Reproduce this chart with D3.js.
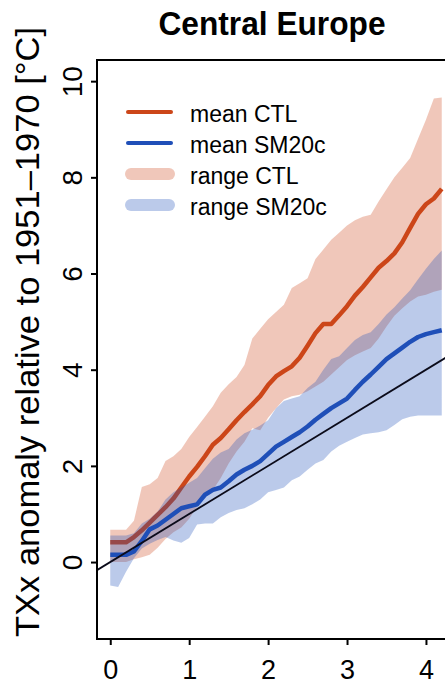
<!DOCTYPE html>
<html>
<head>
<meta charset="utf-8">
<script src="https://cdn.jsdelivr.net/npm/d3@7"></script>
<style>
  body { margin: 0; background: #fff; }
  svg { display: block; font-family: "Liberation Sans", Arial, sans-serif; }
</style>
</head>
<body>
<div id="chart"></div>
<script>
// global warming level (x axis)
const warming = [0, 0.1, 0.2, 0.3, 0.4, 0.5, 0.6, 0.7, 0.8, 0.9,
  1.0, 1.1, 1.2, 1.3, 1.4, 1.5, 1.6, 1.7, 1.8, 1.9,
  2.0, 2.1, 2.2, 2.3, 2.4, 2.5, 2.6, 2.7, 2.8, 2.9,
  3.0, 3.1, 3.2, 3.3, 3.4, 3.5, 3.6, 3.7, 3.8, 3.9,
  4.0, 4.1, 4.2];

const ctlMean = [0.41, 0.41, 0.41, 0.52, 0.66, 0.82, 0.98, 1.14, 1.32, 1.55,
  1.78, 1.98, 2.20, 2.44, 2.58, 2.76, 2.95, 3.12, 3.28, 3.45,
  3.68, 3.86, 3.97, 4.07, 4.25, 4.50, 4.76, 4.95, 4.95, 5.13,
  5.32, 5.54, 5.72, 5.92, 6.12, 6.26, 6.42, 6.65, 6.95, 7.24,
  7.44, 7.56, 7.76];
const ctlHi = [0.67, 0.67, 0.67, 0.86, 1.56, 1.62, 1.75, 2.10, 2.20, 2.35,
  2.60, 2.81, 3.02, 3.24, 3.52, 3.70, 3.85, 4.10, 4.65, 4.85,
  5.05, 5.20, 5.35, 5.70, 5.80, 5.90, 6.30, 6.50, 6.70, 6.85,
  7.00, 7.11, 7.18, 7.22, 7.50, 7.75, 8.00, 8.20, 8.40, 8.80,
  9.20, 9.64, 9.66];
const ctlLo = [0.00, 0.00, 0.00, 0.06, 0.10, 0.15, 0.30, 0.48, 0.62, 0.72,
  0.90, 1.15, 1.38, 1.50, 1.75, 2.05, 2.30, 2.50, 2.78, 2.74,
  3.00, 3.20, 3.38, 3.45, 3.48, 3.55, 3.65, 3.75, 3.90, 4.05,
  4.20, 4.30, 4.38, 4.45, 4.65, 4.90, 5.12, 5.28, 5.42, 5.52,
  5.56, 5.62, 5.66];

const smMean = [0.15, 0.15, 0.15, 0.22, 0.44, 0.68, 0.76, 0.88, 1.00, 1.12,
  1.16, 1.20, 1.40, 1.50, 1.55, 1.68, 1.82, 1.92, 2.00, 2.10,
  2.25, 2.40, 2.50, 2.60, 2.70, 2.82, 2.96, 3.08, 3.20, 3.30,
  3.40, 3.58, 3.75, 3.90, 4.06, 4.22, 4.34, 4.46, 4.58, 4.68,
  4.74, 4.78, 4.82];
const smHi = [0.55, 0.55, 0.55, 0.60, 0.80, 0.90, 1.05, 1.30, 1.45, 1.55,
  1.65, 1.75, 1.95, 2.15, 2.28, 2.35, 2.55, 2.68, 2.75, 2.84,
  2.95, 3.20, 3.35, 3.40, 3.45, 3.62, 3.75, 4.00, 4.22, 4.28,
  4.45, 4.62, 4.72, 4.78, 4.95, 5.15, 5.30, 5.48, 5.65, 5.88,
  6.10, 6.30, 6.48];
const smLo = [-0.49, -0.52, -0.20, 0.08, 0.28, 0.38, 0.46, 0.52, 0.45, 0.40,
  0.50, 0.78, 0.80, 0.80, 0.93, 1.02, 1.08, 1.12, 1.20, 1.30,
  1.45, 1.50, 1.55, 1.70, 1.78, 1.92, 2.05, 2.12, 2.30, 2.42,
  2.50, 2.58, 2.65, 2.68, 2.70, 2.74, 2.85, 2.97, 3.02, 3.05,
  3.05, 3.05, 3.05];

// 1:1 reference line
const diagonal = [-0.2, 4.4];

const xTicks = [0, 1, 2, 3, 4];
const yTicks = [0, 2, 4, 6, 8, 10];
const legendLabels = ['mean CTL', 'mean SM20c', 'range CTL', 'range SM20c'];

const ctlColor = '#cc4619';
const smColor = '#1f4fb8';
const rangeOpacity = 0.3;

const width = 445, height = 685;
const plot = { left: 97, top: 60, right: 455, bottom: 639 };

const svg = d3.select('#chart').append('svg')
  .attr('width', width)
  .attr('height', height);

svg.append('rect').attr('width', width).attr('height', height).attr('fill', '#fff');

const x = d3.scaleLinear()
  .domain([-0.168, 4.368])
  .range([plot.left, plot.right]);

const y = d3.scaleLinear()
  .domain([-1.6, 10.44])
  .range([plot.bottom, plot.top]);

svg.append('clipPath')
  .attr('id', 'plot-clip')
  .append('rect')
  .attr('x', plot.left)
  .attr('y', plot.top)
  .attr('width', plot.right - plot.left)
  .attr('height', plot.bottom - plot.top);

const rows = warming.map((w, i) => ({
  x: w,
  ctlMean: ctlMean[i], ctlHi: ctlHi[i], ctlLo: ctlLo[i],
  smMean: smMean[i], smHi: smHi[i], smLo: smLo[i]
}));

const area = (lo, hi) => d3.area()
  .x(d => x(d.x))
  .y0(d => y(d[lo]))
  .y1(d => y(d[hi]));

const line = key => d3.line()
  .x(d => x(d.x))
  .y(d => y(d[key]));

const g = svg.append('g').attr('clip-path', 'url(#plot-clip)');

g.append('path')
  .datum(rows)
  .attr('d', area('ctlLo', 'ctlHi'))
  .attr('fill', ctlColor)
  .attr('fill-opacity', rangeOpacity);

g.append('path')
  .datum(rows)
  .attr('d', line('ctlMean'))
  .attr('fill', 'none')
  .attr('stroke', ctlColor)
  .attr('stroke-width', 4.5)
  .attr('stroke-linejoin', 'round');

g.append('path')
  .datum(rows)
  .attr('d', area('smLo', 'smHi'))
  .attr('fill', smColor)
  .attr('fill-opacity', rangeOpacity);

g.append('path')
  .datum(rows)
  .attr('d', line('smMean'))
  .attr('fill', 'none')
  .attr('stroke', smColor)
  .attr('stroke-width', 4.5)
  .attr('stroke-linejoin', 'round');

g.append('line')
  .attr('x1', x(diagonal[0]))
  .attr('y1', y(diagonal[0]))
  .attr('x2', x(diagonal[1]))
  .attr('y2', y(diagonal[1]))
  .attr('stroke', '#0b0b1a')
  .attr('stroke-width', 1.8);

// frame
svg.append('rect')
  .attr('x', plot.left)
  .attr('y', plot.top)
  .attr('width', plot.right - plot.left)
  .attr('height', plot.bottom - plot.top)
  .attr('fill', 'none')
  .attr('stroke', '#000')
  .attr('stroke-width', 2);

const xAxis = d3.axisBottom(x)
  .tickValues(xTicks)
  .tickSize(6)
  .tickFormat(d3.format('d'));

svg.append('g')
  .attr('transform', `translate(0,${plot.bottom})`)
  .call(xAxis)
  .call(a => a.select('.domain').remove())
  .call(a => a.selectAll('line').attr('stroke-width', 2))
  .call(a => a.selectAll('text')
    .attr('y', 40)
    .attr('dy', 0)
    .attr('font-size', 27)
    .attr('font-family', null)
    .attr('fill', '#000'));

const yAxis = d3.axisLeft(y)
  .tickValues(yTicks)
  .tickSize(6)
  .tickFormat(d3.format('d'));

svg.append('g')
  .attr('transform', `translate(${plot.left},0)`)
  .call(yAxis)
  .call(a => a.select('.domain').remove())
  .call(a => a.selectAll('line').attr('stroke-width', 2))
  .call(a => a.selectAll('text')
    .attr('transform', 'rotate(-90)')
    .attr('x', 0)
    .attr('y', -15)
    .attr('dy', 0)
    .attr('text-anchor', 'middle')
    .attr('font-size', 28)
    .attr('font-family', null)
    .attr('fill', '#000'));

svg.append('text')
  .attr('transform', 'translate(39,332) rotate(-90)')
  .attr('text-anchor', 'middle')
  .attr('font-size', 33)
  .attr('textLength', 610)
  .attr('lengthAdjust', 'spacingAndGlyphs')
  .text('TXx anomaly relative to 1951\u20131970 [°C]');

svg.append('text')
  .attr('x', 272)
  .attr('y', 35)
  .attr('text-anchor', 'middle')
  .attr('font-size', 34)
  .attr('font-weight', 'bold')
  .attr('textLength', 227)
  .attr('lengthAdjust', 'spacingAndGlyphs')
  .text('Central Europe');

// legend
const legend = svg.append('g')
  .attr('font-size', 23);

const legendItems = legend.selectAll('g')
  .data(legendLabels)
  .join('g')
  .attr('transform', (d, i) => `translate(0,${112 + i * 31})`);

legendItems.append('line')
  .attr('x1', (d, i) => i < 2 ? 128 : 131)
  .attr('x2', (d, i) => i < 2 ? 171 : 169)
  .attr('stroke', (d, i) => i % 2 === 0 ? ctlColor : smColor)
  .attr('stroke-opacity', (d, i) => i < 2 ? 1 : rangeOpacity)
  .attr('stroke-width', (d, i) => i < 2 ? 4 : 12)
  .attr('stroke-linecap', 'round');

legendItems.append('text')
  .attr('x', 190)
  .attr('y', 9.5)
  .text(d => d);
</script>
</body>
</html>
